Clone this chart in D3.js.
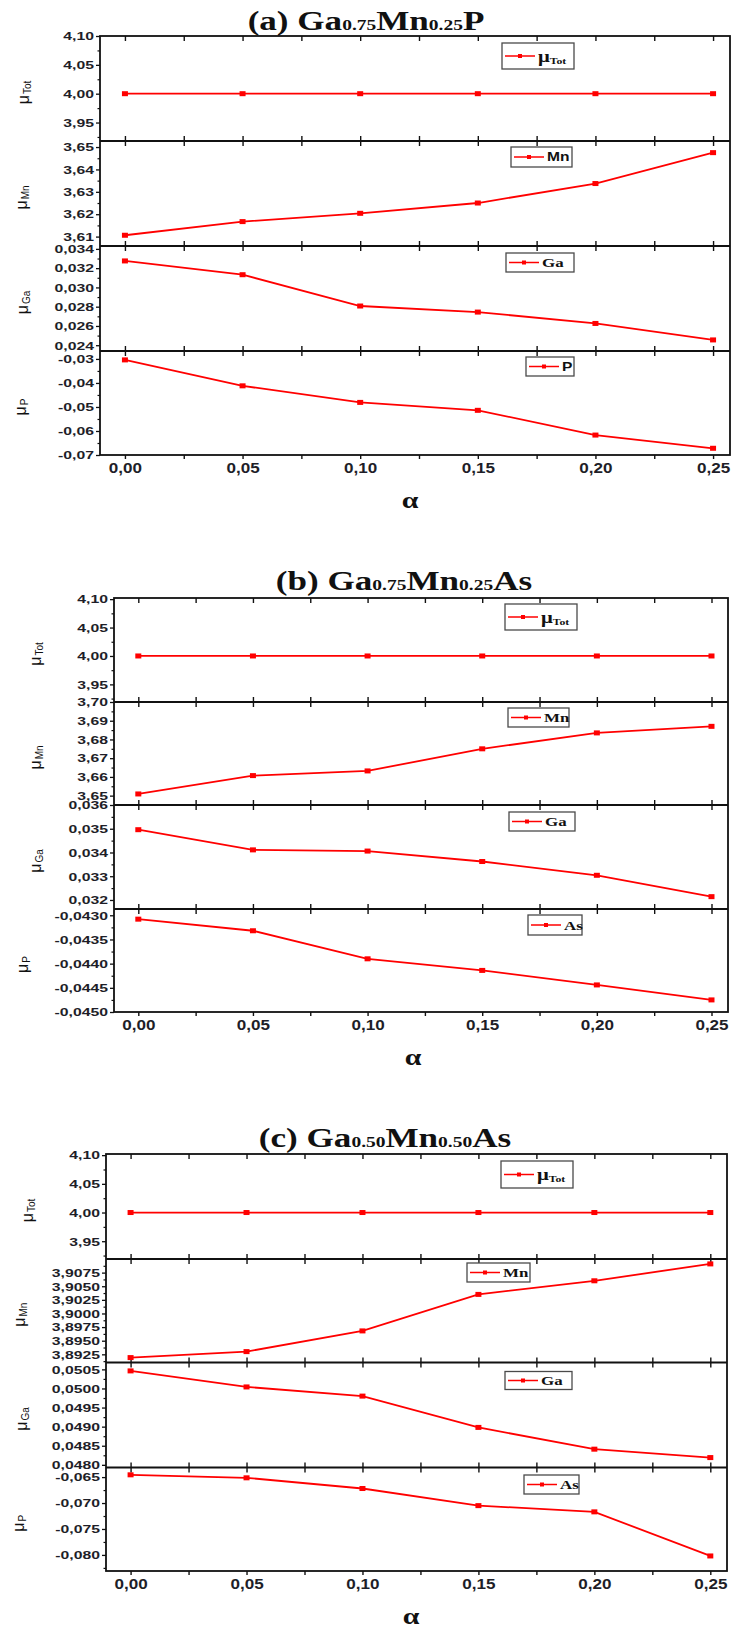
<!DOCTYPE html>
<html><head><meta charset="utf-8">
<script src="https://cdn.jsdelivr.net/npm/d3@7"></script>
<style>body{margin:0;background:#fff} svg{display:block}</style>
</head><body>
<svg id="c" width="732" height="1630"></svg>
<script>
// ---------- data ----------
const alpha = [0, 0.05, 0.10, 0.15, 0.20, 0.25];
const xTicks = [0, 0.05, 0.10, 0.15, 0.20, 0.25];
const xMinorTicks = [0.025, 0.075, 0.125, 0.175, 0.225];

// (a) Ga0.75Mn0.25P
const aTot = [4.00, 4.00, 4.00, 4.00, 4.00, 4.00];
const aMn  = [3.6106, 3.6167, 3.6204, 3.6250, 3.6337, 3.6475];
const aGa  = [0.03275, 0.03132, 0.02807, 0.02744, 0.02626, 0.02455];
const aP   = [-0.0304, -0.0412, -0.0481, -0.0514, -0.0617, -0.0672];
// (b) Ga0.75Mn0.25As
const bTot = [4.00, 4.00, 4.00, 4.00, 4.00, 4.00];
const bMn  = [3.6509, 3.6607, 3.6632, 3.6750, 3.6835, 3.6870];
const bGa  = [0.03496, 0.03411, 0.03406, 0.03362, 0.03304, 0.03214];
const bAs  = [-0.04308, -0.04332, -0.04390, -0.04414, -0.04444, -0.04475];
// (c) Ga0.50Mn0.50As
const cTot = [4.00, 4.00, 4.00, 4.00, 4.00, 4.00];
const cMn  = [3.8919, 3.8930, 3.8968, 3.9035, 3.9060, 3.9091];
const cGa  = [0.05046, 0.05004, 0.04980, 0.04898, 0.04841, 0.04819];
const cAs  = [-0.06456, -0.06514, -0.0672, -0.0705, -0.0717, -0.0802];

// tick labels
const totTicks  = [3.95, 4.00, 4.05, 4.10];
const aMnTicks  = [3.61, 3.62, 3.63, 3.64, 3.65];
const aGaTicks  = [0.024, 0.026, 0.028, 0.030, 0.032, 0.034];
const aPTicks   = [-0.07, -0.06, -0.05, -0.04, -0.03];
const bMnTicks  = [3.65, 3.66, 3.67, 3.68, 3.69, 3.70];
const bGaTicks  = [0.032, 0.033, 0.034, 0.035, 0.036];
const bAsTicks  = [-0.0450, -0.0445, -0.0440, -0.0435, -0.0430];
const cMnTicks  = [3.8925, 3.8950, 3.8975, 3.9000, 3.9025, 3.9050, 3.9075];
const cGaTicks  = [0.0480, 0.0485, 0.0490, 0.0495, 0.0500, 0.0505];
const cAsTicks  = [-0.080, -0.075, -0.070, -0.065];

// ---------- layout ----------
const xDomain = [-0.0106, 0.2572];
const SERIF = "'Liberation Serif','Times New Roman',serif";
const SANS = "'Liberation Sans',Arial,sans-serif";
const RED = "#ff0000";

const charts = [
  { title: ["(a) Ga","0.75","Mn","0.25","P"], tx: 366, ty: 30, x0: 100, x1: 730,
    bounds: [36, 141, 246, 351, 455], alphaX: 410,
    panels: [
      {v: aTot, t: totTicks, d: [3.918, 4.10], f: ".2f", lx: 25, leg: {x: 502, dy: 7, w: 72, h: 26, s: "Tot"}},
      {v: aMn, t: aMnTicks, d: [3.6058, 3.6527], f: ".2f", lx: 23, leg: {x: 511, dy: 6, w: 61, h: 20, s: "Mn", sans: true}},
      {v: aGa, t: aGaTicks, d: [0.0234, 0.0343], f: ".3f", lx: 24, leg: {x: 506, dy: 7, w: 68, h: 19, s: "Ga"}},
      {v: aP, t: aPTicks, d: [-0.070, -0.0267], f: ".2f", lx: 22, leg: {x: 526, dy: 6, w: 48, h: 19, s: "P", sans: true}}
    ]},
  { title: ["(b) Ga","0.75","Mn","0.25","As"], tx: 404, ty: 590, x0: 114, x1: 728,
    bounds: [598, 702, 805, 909, 1012], alphaX: 413,
    panels: [
      {v: bTot, t: totTicks, d: [3.919, 4.102], f: ".2f", lx: 37, leg: {x: 505, dy: 6, w: 72, h: 26, s: "Tot"}},
      {v: bMn, t: bMnTicks, d: [3.645, 3.700], f: ".2f", lx: 37, leg: {x: 508, dy: 6, w: 61, h: 19, s: "Mn"}},
      {v: bGa, t: bGaTicks, d: [0.03162, 0.0360], f: ".3f", lx: 37, leg: {x: 509, dy: 7, w: 66, h: 19, s: "Ga"}},
      {v: bAs, t: bAsTicks, d: [-0.0450, -0.04287], f: ".4f", lx: 24, leg: {x: 528, dy: 6, w: 54, h: 20, s: "As"}}
    ]},
  { title: ["(c) Ga","0.50","Mn","0.50","As"], tx: 385, ty: 1147, x0: 106, x1: 727,
    bounds: [1154, 1259, 1362.5, 1467.5, 1571], alphaX: 411,
    panels: [
      {v: cTot, t: totTicks, d: [3.919, 4.102], f: ".2f", lx: 29, leg: {x: 501, dy: 7, w: 72, h: 27, s: "Tot"}},
      {v: cMn, t: cMnTicks, d: [3.8910, 3.9100], f: ".4f", lx: 21, leg: {x: 467, dy: 4, w: 63, h: 19, s: "Mn"}},
      {v: cGa, t: cGaTicks, d: [0.04793, 0.05068], f: ".4f", lx: 23, leg: {x: 505, dy: 9, w: 67, h: 18, s: "Ga"}},
      {v: cAs, t: cAsTicks, d: [-0.0831, -0.06315], f: ".3f", lx: 20, leg: {x: 524, dy: 7.5, w: 55, h: 19, s: "As"}}
    ]}
];
const yLabelSubs = ["Tot", "Mn", "Ga", "P"];

const loc = d3.formatLocale({decimal: ",", thousands: ".", grouping: [3], currency: ["", ""], minus: "-"});
const svg = d3.select("#c");
svg.append("rect").attr("width", 732).attr("height", 1630).attr("fill", "#fff");

charts.forEach(ch => {
  const g = svg.append("g");
  const x = d3.scaleLinear().domain(xDomain).range([ch.x0, ch.x1]);

  // title
  const tt = g.append("text")
    .attr("transform", `translate(${ch.tx},${ch.ty}) scale(1.3,1)`)
    .attr("text-anchor", "middle").attr("font-family", SERIF).attr("font-weight", "bold")
    .attr("fill", "#111");
  ch.title.forEach((s, i) => tt.append("tspan").attr("font-size", i % 2 ? 15 : 27).text(s));

  ch.panels.forEach((p, i) => {
    const yTop = ch.bounds[i], yBot = ch.bounds[i + 1];
    const y = d3.scaleLinear().domain(p.d).range([yBot, yTop]);
    const last = i === ch.panels.length - 1;

    // top ticks (inward)
    [xTicks, xMinorTicks].forEach(tv => {
      g.append("g").attr("transform", `translate(0,${yTop})`)
        .call(d3.axisBottom(x).tickValues(tv).tickSize(5).tickFormat(""))
        .call(a => a.select(".domain").remove())
        .selectAll("line").attr("stroke", "#111").attr("stroke-width", 1.4);
    });
    // bottom ticks
    [xTicks, xMinorTicks].forEach(tv => {
      const ax = last ? d3.axisBottom(x).tickSize(4) : d3.axisTop(x).tickSize(5);
      g.append("g").attr("transform", `translate(0,${yBot})`)
        .call(ax.tickValues(tv).tickFormat(""))
        .call(a => a.select(".domain").remove())
        .selectAll("line").attr("stroke", "#111").attr("stroke-width", 1.4);
    });

    // left axis, major
    const ly = g.append("g").attr("transform", `translate(${ch.x0},0)`)
      .call(d3.axisLeft(y).tickValues(p.t).tickSize(4).tickFormat(loc.format(p.f)));
    ly.select(".domain").remove();
    ly.selectAll("line").attr("stroke", "#111").attr("stroke-width", 1.3);
    ly.selectAll("text").attr("x", null).attr("dy", "0.36em")
      .attr("transform", "translate(-6,0) scale(1.5,1)")
      .attr("font-family", SANS).attr("font-weight", "bold").attr("font-size", 10.5)
      .attr("fill", "#1e1e28");
    // left axis, minor
    const step = p.t[1] - p.t[0];
    const minor = [];
    for (let k = -1; k < p.t.length; k++) {
      const m = p.t[0] + (k + 0.5) * step;
      if (m > Math.min(...p.d) && m < Math.max(...p.d)) minor.push(m);
    }
    g.append("g").attr("transform", `translate(${ch.x0},0)`)
      .call(d3.axisLeft(y).tickValues(minor).tickSize(2.5).tickFormat(""))
      .call(a => a.select(".domain").remove())
      .selectAll("line").attr("stroke", "#111").attr("stroke-width", 1.2);

    // x tick labels on the bottom panel
    if (last) {
      const lx = g.append("g").attr("transform", `translate(0,${yBot})`)
        .call(d3.axisBottom(x).tickValues(xTicks).tickSize(0).tickFormat(loc.format(".2f")));
      lx.select(".domain").remove();
      lx.selectAll("text").attr("y", null).attr("dy", null)
        .attr("transform", "translate(0,18) scale(1.22,1)")
        .attr("font-family", SANS).attr("font-weight", "bold").attr("font-size", 14)
        .attr("fill", "#1e1e28");
      g.append("text").attr("transform", `translate(${ch.alphaX},${yBot + 53}) scale(1.3,1)`)
        .attr("text-anchor", "middle").attr("font-family", SERIF).attr("font-weight", "bold")
        .attr("font-size", 23).attr("fill", "#111").text("α");
    }

    // y label
    const yl = g.append("text")
      .attr("transform", `translate(${p.lx},${(yTop + yBot) / 2 + 4}) rotate(-90)`)
      .attr("text-anchor", "middle").attr("dominant-baseline", "middle")
      .attr("font-family", SANS).attr("fill", "#111");
    yl.append("tspan").attr("font-size", 16).text("μ");
    yl.append("tspan").attr("font-size", 10).attr("dy", 3).attr("dx", 1).text(yLabelSubs[i]);

    // series
    const pts = alpha.map((a, k) => [a, p.v[k]]);
    g.append("path").datum(pts)
      .attr("d", d3.line().x(d => x(d[0])).y(d => y(d[1])))
      .attr("fill", "none").attr("stroke", RED).attr("stroke-width", 1.8);
    g.selectAll(null).data(pts).join("rect")
      .attr("x", d => x(d[0]) - 3).attr("y", d => y(d[1]) - 2.5)
      .attr("width", 6).attr("height", 5).attr("fill", RED);

    // legend
    const L = p.leg, by = yTop + L.dy;
    const lg = g.append("g").attr("transform", `translate(${L.x},${by})`);
    lg.append("rect").attr("x", 0).attr("y", 0).attr("width", L.w).attr("height", L.h)
      .attr("fill", "#fff").attr("stroke", "#4a4a4a").attr("stroke-width", 1.3);
    lg.append("line").attr("x1", 3).attr("x2", 33).attr("y1", L.h / 2).attr("y2", L.h / 2)
      .attr("stroke", RED).attr("stroke-width", 1.5);
    lg.append("rect").attr("x", 16).attr("y", L.h / 2 - 2).attr("width", 4).attr("height", 4).attr("fill", RED);
    const lt = lg.append("text").attr("transform", `translate(36,${L.h / 2}) scale(1.3,1)`)
      .attr("dy", "0.35em").attr("font-weight", "bold").attr("fill", "#111");
    if (L.s === "Tot") {
      lt.attr("font-family", SERIF);
      lt.append("tspan").attr("font-size", 16).text("μ");
      lt.append("tspan").attr("font-size", 9).attr("dy", 2).text("Tot");
    } else {
      lt.attr("font-family", L.sans ? SANS : SERIF).attr("font-size", L.sans ? 12 : 13).text(L.s);
    }
  });

  // frame and panel dividers
  g.append("rect").attr("x", ch.x0).attr("y", ch.bounds[0])
    .attr("width", ch.x1 - ch.x0).attr("height", ch.bounds[4] - ch.bounds[0])
    .attr("fill", "none").attr("stroke", "#111").attr("stroke-width", 1.8);
  ch.bounds.slice(1, 4).forEach(b => g.append("line").attr("x1", ch.x0).attr("x2", ch.x1)
    .attr("y1", b).attr("y2", b).attr("stroke", "#111").attr("stroke-width", 1.8));
});
</script>
</body></html>
